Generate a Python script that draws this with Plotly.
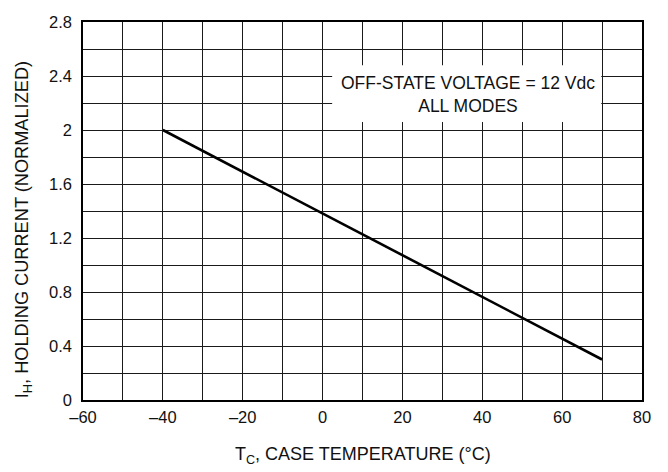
import plotly.graph_objects as go

# Data
temp_c = [-40, 70]
holding_current = [2.0, 0.30]

x_tick_vals = [-60, -50, -40, -30, -20, -10, 0, 10, 20, 30, 40, 50, 60, 70, 80]
x_tick_text = ["–60", "", "–40", "", "–20", "", "0", "", "20", "", "40", "", "60", "", "80"]
y_tick_vals = [0, 0.2, 0.4, 0.6, 0.8, 1.0, 1.2, 1.4, 1.6, 1.8, 2.0, 2.2, 2.4, 2.6, 2.8]
y_tick_text = ["0", "", "0.4", "", "0.8", "", "1.2", "", "1.6", "", "2", "", "2.4", "", "2.8"]

x_title = "T<sub>C</sub>, CASE TEMPERATURE (°C)"
y_title = "I<sub>H</sub>, HOLDING CURRENT (NORMALIZED)"
note = "OFF-STATE VOLTAGE = 12 Vdc<br>ALL MODES"

FONT = "Liberation Sans, Arial, sans-serif"
FS = 16.5
TXT = "#111"

fig = go.Figure()
fig.add_trace(go.Scatter(x=temp_c, y=holding_current, mode="lines",
                         line=dict(color="black", width=2.6), showlegend=False,
                         hoverinfo="skip"))

fig.add_shape(type="rect", xref="x", yref="y", x0=2.4, x1=69.8, y0=2.06, y1=2.48,
              fillcolor="white", line=dict(width=0), layer="between")
fig.add_annotation(x=36.4, y=2.26, xref="x", yref="y", showarrow=False,
                   text=note, font=dict(family=FONT, size=17.5, color=TXT),
                   align="center")

fig.add_annotation(x=0.5, y=-0.148, xref="paper", yref="paper", showarrow=False,
                   text=x_title, xanchor="center", yanchor="middle",
                   font=dict(family=FONT, size=18, color=TXT))
fig.add_annotation(x=-0.105, y=0.45, xref="paper", yref="paper", showarrow=False,
                   text=y_title, textangle=-90, xanchor="center", yanchor="middle",
                   font=dict(family=FONT, size=18.2, color=TXT))

fig.update_xaxes(range=[-60, 80], tickvals=x_tick_vals, ticktext=x_tick_text,
                 showgrid=True, gridcolor="#1a1a1a", gridwidth=1.2,
                 showline=True, linecolor="black", linewidth=1.5, mirror=True,
                 ticks="", zeroline=False, automargin=False, ticklabelstandoff=1,
                 tickfont=dict(family=FONT, size=FS, color=TXT))
fig.update_yaxes(range=[0, 2.8], tickvals=y_tick_vals, ticktext=y_tick_text,
                 showgrid=True, gridcolor="#1a1a1a", gridwidth=1.2,
                 showline=True, linecolor="black", linewidth=1.5, mirror=True,
                 ticks="", zeroline=False, automargin=False, ticklabelstandoff=6,
                 tickfont=dict(family=FONT, size=FS, color=TXT))

fig.update_layout(width=668, height=472, margin=dict(l=75, r=34, t=14, b=80),
                  plot_bgcolor="white", paper_bgcolor="white")

fig.write_html("out.html")
